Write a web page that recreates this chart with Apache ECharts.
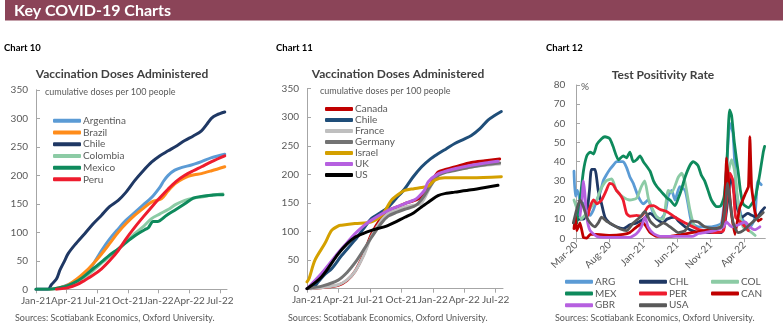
<!DOCTYPE html>
<html><head><meta charset="utf-8">
<script src="https://cdn.jsdelivr.net/npm/echarts@6/dist/echarts.min.js"></script>
<style>html,body{margin:0;padding:0;background:#fff}#c{width:783px;height:330px}</style>
</head><body><div id="c"></div><script>
// ---------- Tick labels ----------
const vaccTickLabels = ['Jan-21','Apr-21','Jul-21','Oct-21','Jan-22','Apr-22','Jul-22'];
const vaccTickValues = [0,3,6,9,12,15,18];           // months since Jan-21
const posTickLabels = ['Mar-20','Aug-20','Jan-21','Jun-21','Nov-21','Apr-22'];
const posTickValues = [0,5,10,15,20,25];            // months since Mar-20

// ---------- Chart 10: [months since Jan-21, doses per 100] ----------
const c10Argentina = [[1.4,0],[2.4,3],[3.16,8],[4.0,15],[4.79,22],[5.6,44],[6.42,68],[7.2,88],[8.05,106],[8.8,121],[9.68,135],[10.5,148],[11.31,161],[12.12,179],[12.5,190],[12.94,200],[13.59,209],[14.3,214],[15.22,218],[16.2,224],[17.2,231],[18.48,237]];
const c10Brazil = [[1.4,0],[2.35,3],[3.16,8],[4.0,18],[4.79,30],[5.6,45],[6.42,62],[7.2,80],[8.05,100],[8.8,115],[9.68,130],[10.5,142],[11.31,153],[12.28,159],[12.9,172],[13.59,185],[14.3,193],[14.89,198],[15.5,201],[16.2,203],[17.2,208],[18.48,215]];
const c10Chile = [[0,0],[1.2,0],[1.5,8],[2.0,18],[2.35,34],[2.8,50],[3.16,63],[3.8,78],[4.79,98],[5.6,115],[6.42,130],[7.2,145],[8.05,156],[8.8,170],[9.68,191],[10.5,208],[11.31,223],[12.1,234],[12.94,243],[13.8,252],[14.57,261],[15.4,269],[16.2,278],[16.7,289],[17.17,300],[17.7,306],[18.48,311]];
const c10Colombia = [[1.4,0],[2.35,2],[3.16,6],[4.0,13],[4.79,22],[5.6,33],[6.42,46],[7.2,58],[8.05,70],[8.8,82],[9.68,98],[10.5,110],[11.31,124],[12.1,132],[12.94,140],[13.7,149],[14.57,156],[15.4,160],[16.2,162],[17.2,165],[18.3,167]];
const c10Mexico = [[0,0],[1.3,0],[2.35,3],[3.16,7],[4.0,14],[4.79,24],[5.6,36],[6.42,48],[7.2,60],[8.05,71],[8.8,82],[9.68,94],[10.3,101],[10.8,106],[11.0,108],[11.47,119],[11.9,119],[12.8,130],[13.7,140],[14.57,150],[15.4,160],[16.2,163],[17.17,165],[17.7,166],[18.3,166]];
const c10Peru = [[2.0,0],[3.16,3],[4.0,8],[4.79,16],[5.6,25],[6.42,36],[7.2,50],[8.05,68],[8.8,88],[9.68,109],[10.5,127],[11.31,144],[12.1,160],[12.94,176],[13.7,189],[14.57,200],[15.4,208],[16.2,215],[17.2,224],[18.48,234]];

// ---------- Chart 11: [months since Jan-21, doses per 100] ----------
const c11Canada = [[0.3,0],[1.5,2],[2.98,6],[3.8,14],[4.57,30],[5.4,60],[6.16,96],[7.11,125],[7.75,137],[8.6,143],[9.33,149],[10.2,154],[10.92,160],[11.7,180],[12.5,204],[13.3,209],[14.1,213],[15.68,221],[17.0,224],[18.38,227]];
const c11Chile = [[0.4,0],[0.76,5],[1.08,12],[1.7,25],[2.35,35],[3.3,58],[4.57,85],[5.4,105],[6.16,123],[7.0,133],[7.75,143],[8.5,158],[9.33,175],[10.1,195],[10.92,213],[11.7,226],[12.5,236],[13.3,245],[14.1,254],[14.9,261],[15.68,268],[16.5,280],[17.27,295],[17.9,303],[18.54,310]];
const c11France = [[0.3,0],[1.5,2],[2.98,7],[3.8,15],[4.57,30],[5.4,58],[6.16,92],[7.11,120],[7.75,132],[8.6,138],[9.33,143],[10.2,146],[10.92,150],[11.7,176],[12.5,198],[13.3,205],[14.1,208],[15.68,213],[17.0,216],[18.38,218]];
const c11Germany = [[0,0],[1.5,5],[2.98,15],[3.8,28],[4.57,45],[5.4,68],[6.16,90],[7.11,115],[7.75,127],[8.6,134],[9.33,139],[10.2,144],[10.6,149],[11.2,163],[11.71,178],[12.5,198],[13.3,204],[14.1,207],[15.68,213],[17.0,217],[18.38,220]];
const c11Israel = [[0,12],[0.2,18],[0.76,50],[1.7,79],[2.35,102],[3.0,110],[3.3,111],[4.57,114],[6.16,117],[7.11,128],[8.06,155],[8.7,165],[9.33,172],[10.2,175],[10.92,177],[11.6,180],[12.19,190],[13.14,194],[15.68,194],[18.54,196]];
const c11UK = [[0,0],[1.4,27],[2.98,63],[3.8,80],[4.57,96],[5.4,110],[6.16,120],[7.75,137],[9.33,149],[10.2,155],[10.6,160],[11.2,172],[11.56,187],[12.5,201],[13.3,206],[14.1,210],[15.68,216],[17.0,220],[18.22,223]];
const c11US = [[0,0],[1.4,21],[2.98,61],[3.8,78],[4.57,90],[5.4,97],[6.16,102],[7.75,111],[9.33,125],[10.2,133],[10.92,143],[11.7,153],[12.5,163],[13.3,167],[14.1,169],[15.68,173],[17.0,177],[18.22,181]];

// ---------- Chart 12: [months since Mar-20, test positivity %] ----------
const c12ARG = [[-0.3,35],[-0.1,22],[0.2,25],[0.6,20],[1.1,18],[1.6,13],[2.1,12],[2.6,15],[3.1,20],[3.6,24],[4.05,30],[4.5,33],[5.04,36],[5.5,38],[6.03,40],[6.5,40],[7.0,40],[7.5,37],[8.0,32],[8.5,28.7],[9.25,21.7],[10.0,18],[10.7,20],[11.5,13],[12.5,10],[13.2,13],[13.7,22],[14.2,25],[14.7,20],[15.4,27],[16.2,25],[16.7,16.5],[17.2,8],[18.2,6],[20.1,6],[21.6,8],[22.3,34],[22.84,60],[23.3,55],[23.8,25],[24.6,11],[25.6,5],[26.5,10],[27.0,30],[27.5,28]];
const c12CHL = [[-0.3,8],[0.5,10],[1.1,10],[1.6,13],[2.0,25],[2.3,36],[2.8,36],[3.3,25],[3.8,18],[4.3,11],[5.0,8],[6.0,6],[7.0,5],[8.0,7],[9.0,8],[10.0,10],[11.0,13],[12.0,10],[12.9,8],[13.5,10],[14.7,11],[15.2,9],[16.2,6],[17.2,4],[18.2,3],[20.0,3],[21.6,3],[22.1,8],[22.6,22],[23.0,33],[23.4,25],[24.0,15],[24.6,11],[25.5,13],[26.1,12],[26.8,11],[27.5,14],[28.0,16]];
const c12COL = [[-0.3,20],[0.3,14],[0.8,10],[1.3,12],[2.0,15],[2.6,18],[3.1,20],[3.6,25],[4.5,30],[5.3,31],[6.0,25],[7.0,21.5],[8.0,20],[9.0,21],[9.7,27],[10.2,30],[10.8,20],[12.0,11],[12.9,10],[13.7,25],[14.2,24],[15.2,32],[15.7,34],[16.2,29],[16.9,15],[17.6,6],[18.6,4],[20.1,4],[21.9,8],[22.6,34],[23.1,41],[23.6,34],[24.1,17],[24.8,6],[26.1,3],[26.6,1.5]];
const c12MEX = [[0.1,8],[0.6,20],[1.1,35],[1.6,43],[2.1,45],[2.6,44],[3.1,49],[3.8,52],[4.3,53],[5.0,52],[5.5,48],[6.3,41],[7.0,43],[7.5,42],[8.0,45],[8.5,40],[9.0,41],[9.5,43],[10.0,40],[11.0,35],[11.5,30],[12.0,27],[12.5,25],[13.0,23],[13.5,21],[13.95,20],[14.7,17],[15.2,21],[15.7,26],[16.2,32],[16.9,38],[17.4,40],[18.1,38],[18.6,33],[19.1,30],[19.6,25],[20.1,20],[20.9,16.5],[21.5,17],[22.0,22],[22.4,40],[22.8,67],[23.1,64],[23.5,50],[24.1,34],[24.4,25],[24.8,18],[25.6,16],[26.3,19],[26.6,21],[27.0,28],[27.3,34],[27.8,45],[28.0,48]];
const c12PER = [[1.8,12],[2.1,16.5],[2.6,20],[3.1,18],[3.8,20],[4.5,25],[5.0,28.7],[5.5,28],[6.0,25],[6.5,23],[7.0,20],[7.5,13],[8.0,11.5],[9.0,12],[9.7,11.5],[10.7,16.5],[11.5,17],[12.5,15],[13.45,14],[14.7,11],[16.2,8],[18.2,4.6],[20.6,3],[21.9,4],[22.4,22],[22.84,34],[23.3,30],[23.7,11],[24.6,8],[25.6,4]];
const c12CAN = [[-0.3,5],[-0.1,12],[0.1,4],[0.6,8],[1.1,0.5],[1.6,0],[2.1,2],[3.0,2],[5.0,1.5],[7.0,2],[8.0,3],[9.0,6],[10.0,8],[11.0,3],[12.0,1],[14.0,1],[15.7,2],[17.2,3],[19.1,4],[21.6,6],[22.1,19],[22.35,42],[22.7,27],[23.1,12],[23.6,2],[24.3,16],[25.1,23],[25.6,27],[25.81,53],[26.06,27],[26.55,14],[27.05,9],[27.5,10]];
const c12GBR = [[0.6,12],[0.9,20],[1.1,30],[1.3,24],[1.6,11],[2.1,4],[3.1,1],[4.05,0.5],[8.0,0.5],[9.0,2.5],[9.7,6],[10.24,11],[10.7,6],[11.5,2.5],[12.5,1],[14.0,1],[17.2,1],[18.2,2.5],[19.1,3],[20.6,4],[21.9,6],[22.35,8.5],[23.1,6],[24.1,7],[25.1,8.5],[25.8,6],[26.55,4.5],[27.3,6]];
const c12USA = [[-0.4,8],[0.1,15],[0.6,20],[1.1,16.5],[1.6,11],[2.1,8],[2.8,6],[3.3,8],[3.8,11],[4.5,9],[5.5,7],[6.5,5],[7.5,4],[8.5,8],[9.5,11],[10.24,14],[11.0,9],[12.0,6],[12.96,8],[13.95,6],[15.2,3],[16.2,4],[17.16,9],[18.15,8.5],[19.1,6],[20.6,5],[21.6,6],[22.1,14.5],[22.5,28.7],[22.84,20],[23.34,8],[24.08,3],[24.8,4],[26.06,8],[27.05,11],[27.8,13.5]];

// ---------- Rendering ----------
const FONT = 'Lato, "Open Sans", sans-serif';
const AX = '#A6A6A6', LBL = '#595959', TTL = '#404040';

function vaccX(gi){
  return {type:'value', gridIndex:gi, min:0, max:18.7,
    axisLine:{show:true, onZero:false, lineStyle:{color:AX, width:1}},
    axisTick:{show:true, length:4, lineStyle:{color:AX}, customValues:vaccTickValues},
    axisLabel:{customValues:vaccTickValues, formatter:v=>vaccTickLabels[Math.round(v/3)], color:LBL, fontSize:10, fontFamily:FONT, margin:6},
    splitLine:{show:false}};
}
function yAx(gi, max, interval){
  return {type:'value', gridIndex:gi, min:0, max:max, interval:interval,
    axisLine:{show:true, lineStyle:{color:AX, width:1}},
    axisTick:{show:true, inside:true, length:4, lineStyle:{color:AX}},
    axisLabel:{color:LBL, fontSize:10, fontFamily:FONT, margin:8},
    splitLine:{show:false}};
}
function ser(name, data, color, gi, w, smooth){
  return {name, type:'line', data, xAxisIndex:gi, yAxisIndex:gi, symbol:'none', smooth:smooth,
    lineStyle:{color, width:w, cap:'round', join:'round'}, itemStyle:{color}, emphasis:{disabled:true}, animation:false};
}
function legend(left, top, names, colors, lh){
  return {orient:'vertical', left, top, padding:0, itemGap:0, itemWidth:28, itemHeight:4, icon:'roundRect', selectedMode:false,
    data:names.map((n,i)=>({name:n, itemStyle:{color:colors[i]}})),
    textStyle:{color:LBL, fontSize:10, fontFamily:FONT, lineHeight:lh, padding:[0,0,0,-3]}};
}
const col10 = {Argentina:'#5B9BD5', Brazil:'#FF8C1A', Chile:'#1F3864', Colombia:'#8CCBA5', Mexico:'#0E8A5C', Peru:'#EE1C2E'};
const col11 = {Canada:'#C00000', Chile:'#1F4E79', France:'#BFBFBF', Germany:'#737373', Israel:'#D4A000', UK:'#B660E0', US:'#000000'};
const col12 = {ARG:'#5B9BD5', CHL:'#1F3864', COL:'#8CCBA5', MEX:'#0E8A5C', PER:'#EE1C2E', CAN:'#C00000', GBR:'#B660E0', USA:'#595959'};

function txt(x, y, text, font, fill, align){
  return {type:'text', x, y, silent:true, style:{text, font, fill, align:align||'left', verticalAlign:'middle'}};
}

const option = {
  backgroundColor:'#ffffff',
  animation:false,
  grid:[
    {left:36, top:89.8, width:191, height:199.5},
    {left:307, top:88.7, width:196, height:200},
    {left:573.3, top:85, width:192, height:153.3}
  ],
  xAxis:[ vaccX(0), vaccX(1),
    {type:'value', gridIndex:2, min:-0.4, max:28.1,
     axisLine:{show:true, onZero:false, lineStyle:{color:AX, width:1}},
     axisTick:{show:true, length:4, lineStyle:{color:AX}, customValues:posTickValues},
     axisLabel:{customValues:posTickValues, formatter:v=>posTickLabels[Math.round(v/5)], rotate:45, color:LBL, fontSize:10, fontFamily:FONT, margin:5},
     splitLine:{show:false}} ],
  yAxis:[ yAx(0,350,50), yAx(1,350,50), yAx(2,80,10) ],
  legend:[
    legend(53, 115, ['Argentina','Brazil','Chile','Colombia','Mexico','Peru'], Object.values(col10), 11.7),
    legend(325, 103.5, ['Canada','Chile','France','Germany','Israel','UK','US'], Object.values(col11), 11),
    legend(565, 276, ['ARG','MEX','GBR'], [col12.ARG,col12.MEX,col12.GBR], 11.7),
    legend(639, 276, ['CHL','PER','USA'], [col12.CHL,col12.PER,col12.USA], 11.7),
    legend(711, 276, ['COL','CAN'], [col12.COL,col12.CAN], 11.7)
  ],
  series:[
    ser('Argentina', c10Argentina, col10.Argentina, 0, 3, 0.3),
    ser('Brazil', c10Brazil, col10.Brazil, 0, 3, 0.3),
    ser('Chile', c10Chile, col10.Chile, 0, 3, 0.3),
    ser('Colombia', c10Colombia, col10.Colombia, 0, 3, 0.3),
    ser('Mexico', c10Mexico, col10.Mexico, 0, 3, 0.3),
    ser('Peru', c10Peru, col10.Peru, 0, 3, 0.3),
    ser('Canada', c11Canada, col11.Canada, 1, 3, 0.3),
    ser('Chile', c11Chile, col11.Chile, 1, 3, 0.3),
    ser('France', c11France, col11.France, 1, 3, 0.3),
    ser('Germany', c11Germany, col11.Germany, 1, 3, 0.3),
    ser('Israel', c11Israel, col11.Israel, 1, 3, 0.3),
    ser('UK', c11UK, col11.UK, 1, 3, 0.3),
    ser('US', c11US, col11.US, 1, 3, 0.3),
    ser('ARG', c12ARG, col12.ARG, 2, 2.8, 0.2),
    ser('CHL', c12CHL, col12.CHL, 2, 2.8, 0.2),
    ser('COL', c12COL, col12.COL, 2, 2.8, 0.2),
    ser('MEX', c12MEX, col12.MEX, 2, 2.8, 0.2),
    ser('PER', c12PER, col12.PER, 2, 2.8, 0.2),
    ser('CAN', c12CAN, col12.CAN, 2, 2.8, 0.1),
    ser('GBR', c12GBR, col12.GBR, 2, 2.8, 0.2),
    ser('USA', c12USA, col12.USA, 2, 2.8, 0.2)
  ],
  graphic:[
    {type:'rect', x:5, y:0, shape:{width:778, height:20.5}, style:{fill:'#8B4458'}, silent:true},
    txt(14, 10.5, 'Key COVID-19 Charts', 'bold 16px '+FONT, '#ffffff'),
    txt(4, 48, 'Chart 10', 'bold 9.5px '+FONT, '#000000'),
    txt(276, 48, 'Chart 11', 'bold 9.5px '+FONT, '#000000'),
    txt(546, 48, 'Chart 12', 'bold 9.5px '+FONT, '#000000'),
    txt(122, 74, 'Vaccination Doses Administered', 'bold 12px '+FONT, TTL, 'center'),
    txt(398, 74, 'Vaccination Doses Administered', 'bold 12px '+FONT, TTL, 'center'),
    txt(663, 75, 'Test Positivity Rate', 'bold 12px '+FONT, TTL, 'center'),
    txt(45, 92, 'cumulative doses per 100 people', '9px '+FONT, LBL),
    txt(320, 91, 'cumulative doses per 100 people', '9px '+FONT, LBL),
    txt(581, 87, '%', '10px '+FONT, LBL),
    txt(15, 318, 'Sources: Scotiabank Economics, Oxford University.', '9px '+FONT, LBL),
    txt(288, 318, 'Sources: Scotiabank Economics, Oxford University.', '9px '+FONT, LBL),
    txt(555, 318, 'Sources: Scotiabank Economics, Oxford University.', '9px '+FONT, LBL)
  ]
};
const chart = echarts.init(document.getElementById('c'), null, {renderer:'canvas', width:783, height:330});
chart.setOption(option);
</script></body></html>
